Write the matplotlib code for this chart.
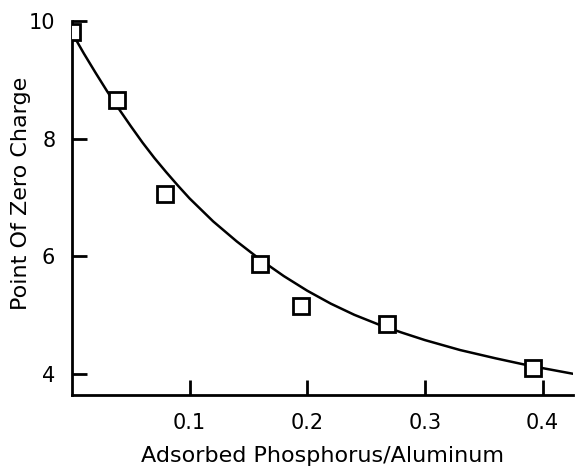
import matplotlib
matplotlib.use("Agg")
import matplotlib.pyplot as plt

# measured data points
p_al = [0.000, 0.038, 0.079, 0.160, 0.195, 0.268, 0.392]
pzc = [9.81, 8.66, 7.06, 5.86, 5.15, 4.84, 4.09]

# fitted curve
curve_x = [0.000, 0.010, 0.020, 0.030, 0.040, 0.050, 0.060, 0.070, 0.080,
           0.090, 0.100, 0.120, 0.140, 0.160, 0.180, 0.200, 0.220, 0.240,
           0.260, 0.280, 0.300, 0.330, 0.360, 0.390, 0.425]
curve_y = [9.80, 9.45, 9.12, 8.80, 8.50, 8.21, 7.93, 7.67, 7.43,
           7.20, 6.98, 6.59, 6.25, 5.94, 5.66, 5.41, 5.19, 5.00,
           4.84, 4.70, 4.57, 4.40, 4.26, 4.13, 4.00]

xticks = [0.1, 0.2, 0.3, 0.4]
xticklabels = ["0.1", "0.2", "0.3", "0.4"]
yticks = [4, 6, 8, 10]

plt.rcParams['font.family'] = ['DejaVu Sans']
fig = plt.figure(figsize=(5.76, 4.67), dpi=100)
ax = fig.add_axes([0.125, 0.154, 0.87, 0.801])

ax.plot(curve_x, curve_y, color='black', lw=1.8, zorder=2)
ax.plot(p_al, pzc, linestyle='none', marker='s', markersize=12,
        markerfacecolor='white', markeredgecolor='black', markeredgewidth=2, zorder=3)

ax.set_xlim(0, 0.426)
ax.set_ylim(3.634, 10.0)
ax.set_xticks(xticks)
ax.set_xticklabels(xticklabels)
ax.set_yticks(yticks)

for s in ['top', 'right']:
    ax.spines[s].set_visible(False)
for s in ['left', 'bottom']:
    ax.spines[s].set_linewidth(2)

ax.tick_params(axis='both', direction='in', length=11, width=2, labelsize=15)
ax.tick_params(axis='y', pad=12)
ax.tick_params(axis='x', pad=13)

ax.set_xlabel("Adsorbed Phosphorus/Aluminum", fontsize=16, labelpad=9)
ax.set_ylabel("Point Of Zero Charge", fontsize=16)
ax.yaxis.set_label_coords(-0.082, 0.54)

for sp in ax.spines.values():
    sp.set_clip_on(False)

fig.savefig("out.png", dpi=100)
